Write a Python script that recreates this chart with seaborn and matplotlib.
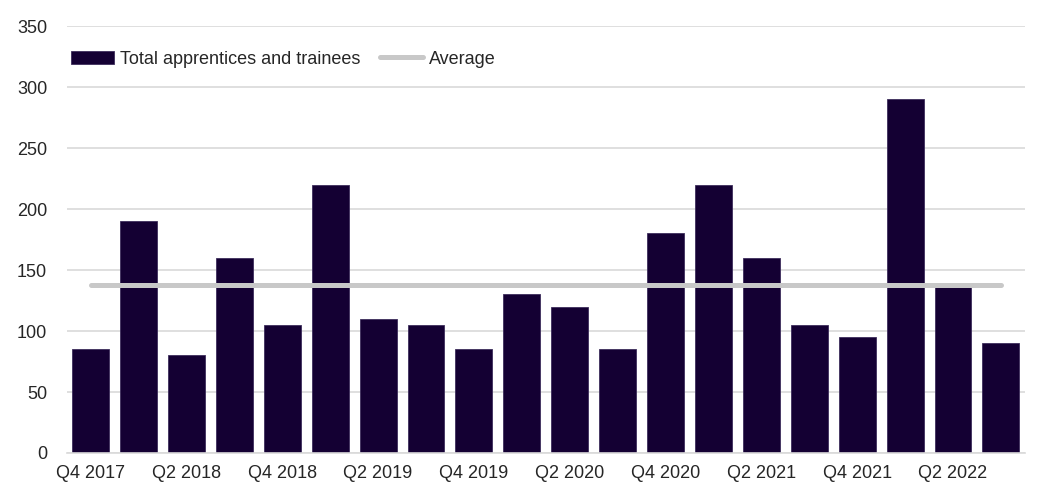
import pandas as pd
import seaborn as sns
import matplotlib.pyplot as plt

quarters = ['Q4 2017', 'Q1 2018', 'Q2 2018', 'Q3 2018', 'Q4 2018', 'Q1 2019', 'Q2 2019',
            'Q3 2019', 'Q4 2019', 'Q1 2020', 'Q2 2020', 'Q3 2020', 'Q4 2020', 'Q1 2021',
            'Q2 2021', 'Q3 2021', 'Q4 2021', 'Q1 2022', 'Q2 2022', 'Q3 2022']
totals = [85, 190, 80, 160, 105, 220, 110, 105, 85, 130, 120, 85, 180, 220, 160, 105, 95, 290, 137, 90]
average = [138] * len(quarters)
y_ticks = [0, 50, 100, 150, 200, 250, 300, 350]

df = pd.DataFrame({'quarter': quarters, 'total': totals, 'average': average})

sns.set_style('white')
plt.rcParams['font.family'] = ['Liberation Sans', 'DejaVu Sans']

fig, ax = plt.subplots(figsize=(10.62, 4.94), dpi=100)
fig.subplots_adjust(left=0.0628, right=0.965, bottom=0.083, top=0.947)

sns.barplot(x='quarter', y='total', data=df, color='#140033', saturation=1, width=0.77,
            edgecolor='#3d2d5c', linewidth=0.6,
            ax=ax, label='Total apprentices and trainees', zorder=2)
ax.plot(range(len(quarters)), df['average'], color='#c8c8c8', lw=3.6, solid_capstyle='round',
        label='Average', zorder=3)

ax.set_ylim(0, 350)
ax.set_xlim(-0.5, len(quarters) - 0.5)
ax.set_yticks(y_ticks)
ax.set_xticks(range(0, len(quarters), 2))
ax.set_xticklabels(quarters[0::2])
ax.yaxis.grid(True, color='#d9d9d9', lw=1.2)
ax.set_axisbelow(True)
ax.set_xlabel('')
ax.set_ylabel('')
ax.tick_params(axis='x', length=0, labelsize=13, pad=9)
ax.tick_params(axis='y', length=0, labelsize=13, pad=14)
sns.despine(left=True, top=True, right=True)
ax.spines['bottom'].set_color('#d9d9d9')
ax.spines['bottom'].set_linewidth(1.2)

handles, labels = ax.get_legend_handles_labels()
order = [labels.index('Total apprentices and trainees'), labels.index('Average')]
ax.legend([handles[i] for i in order], [labels[i] for i in order],
          loc='center left', bbox_to_anchor=(0.0045, 0.923), ncol=2, frameon=False,
          fontsize=13, handlelength=2.4, handletextpad=0.3, columnspacing=1.1,
          borderpad=0, borderaxespad=0)

fig.savefig('out.png', dpi=100)
